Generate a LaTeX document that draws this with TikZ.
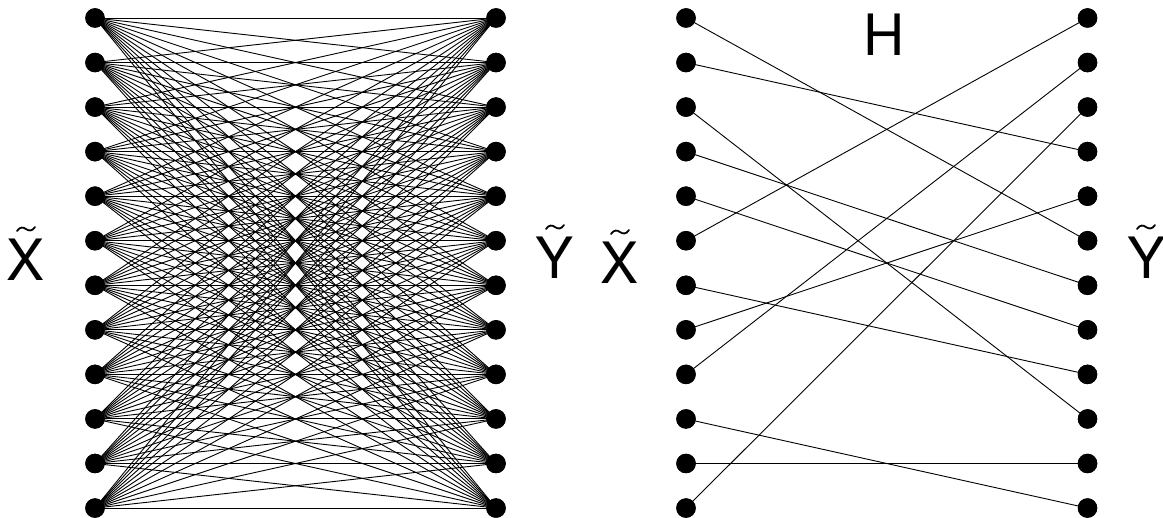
\documentclass[tikz,border=0pt]{standalone}
\usepackage{fontspec}
\setmainfont{TeX Gyre Heros}
\begin{document}
\begin{tikzpicture}[x=1pt,y=-1pt,
  dot/.style={circle,fill=black,inner sep=0pt,minimum size=19.5pt},
  edge/.style={line width=0.9pt,line cap=round},
  lbl/.style={inner sep=0pt,font=\fontsize{57}{60}\selectfont},
  tildestroke/.style={line width=1.8pt,line cap=round}]
\useasboundingbox (0,0) rectangle (1163,518);
% nodes
\foreach \i in {0,...,11}{
  \pgfmathsetmacro{\yy}{18+44.55*\i}
  \node[dot] (lx\i) at (95,\yy) {};
  \node[dot] (ly\i) at (496,\yy) {};
  \node[dot] (rx\i) at (686,\yy) {};
  \node[dot] (ry\i) at (1087.5,\yy) {};
}
% complete bipartite graph
\foreach \i in {0,...,11}{
  \foreach \j in {0,...,11}{
    \draw[edge] (lx\i.center) -- (ly\j.center);
  }
}
% matching H
\foreach \i/\j in {0/5,1/3,2/9,3/6,4/7,5/0,6/8,7/4,8/1,9/11,10/10,11/2}{
  \draw[edge] (rx\i.center) -- (ry\j.center);
}
% redraw dots on top
\foreach \i in {0,...,11}{
  \fill (lx\i) circle (9.75pt);
  \fill (ly\i) circle (9.75pt);
  \fill (rx\i) circle (9.75pt);
  \fill (ry\i) circle (9.75pt);
}
% labels
\node[lbl] (tx1) at (26,260) {X};
\node[lbl] (ty1) at (555,258) {Y};
\node[lbl] (tx2) at (620,263) {X};
\node[lbl] (ty2) at (1146,258) {Y};
\node[lbl] (h) at (884,35) {H};
% tildes
\foreach \n in {tx1,ty1,tx2,ty2}{
  \draw[tildestroke,shift={(\n.north)}]
    (-9,-8) .. controls (-6,-12.5) and (-3,-12) .. (0,-10)
    .. controls (3,-8) and (6,-7.5) .. (9,-12);
}
\end{tikzpicture}
\end{document}
